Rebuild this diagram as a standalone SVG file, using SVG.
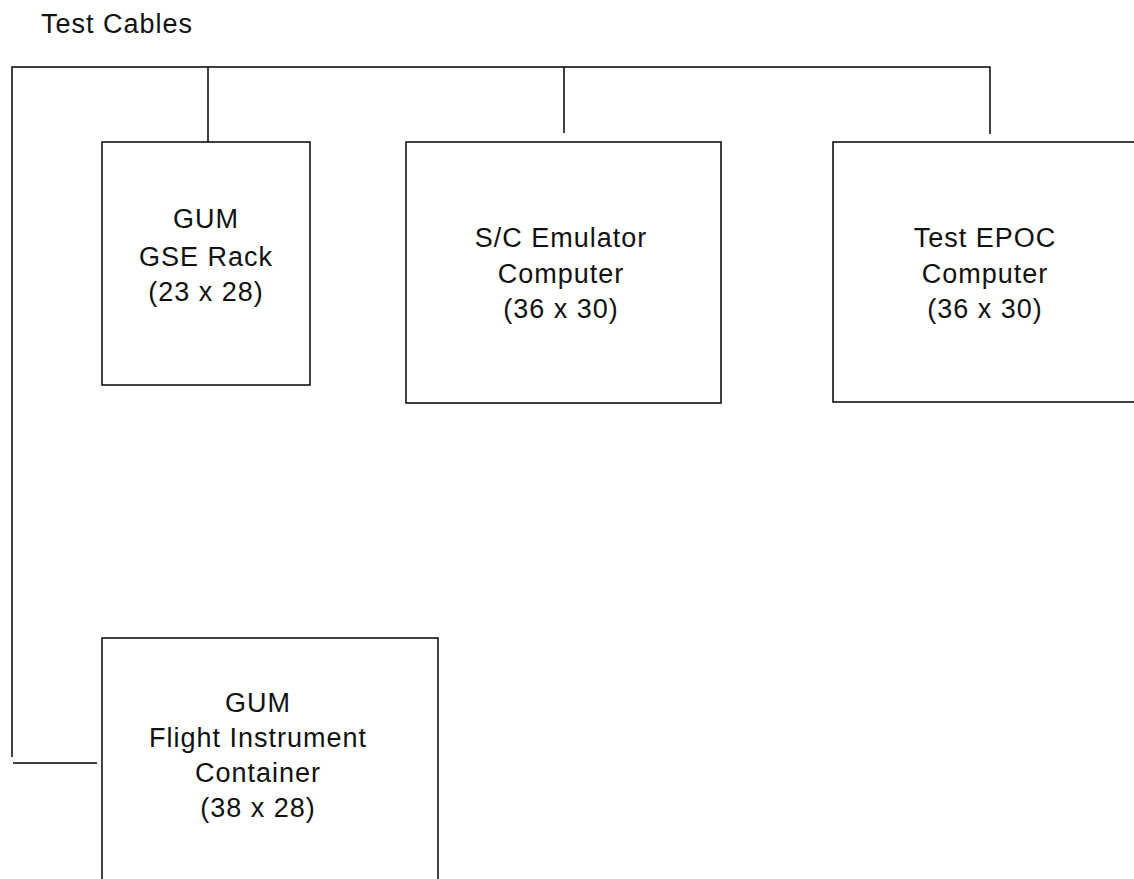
<svg xmlns="http://www.w3.org/2000/svg" width="1134" height="879" viewBox="0 0 1134 879">
<style>
.box{fill:#fff;stroke:#000;stroke-width:1.5}
.wire{fill:none;stroke:#000;stroke-width:1.5}
text{font-family:"Liberation Sans",Arial,sans-serif;font-size:27px;letter-spacing:1px;fill:#111}
.c{text-anchor:middle}
</style>
<rect width="1134" height="879" fill="#fff"/>
<text id="title" x="41" y="33">Test Cables</text>
<g id="connectors">
<path class="wire" d="M12,757 V67 H990 V134"/>
<path class="wire" d="M208,67 V142"/>
<path class="wire" d="M564,67 V133"/>
<path class="wire" d="M13,763 H97"/>
</g>
<g id="gse-rack">
<rect class="box" x="102" y="142" width="208" height="243"/>
<text class="c" x="206" y="228">GUM</text>
<text class="c" x="206" y="266">GSE Rack</text>
<text class="c" x="206" y="301">(23 x 28)</text>
</g>
<g id="sc-emulator">
<rect class="box" x="406" y="142" width="315" height="261"/>
<text class="c" x="561" y="247">S/C Emulator</text>
<text class="c" x="561" y="283">Computer</text>
<text class="c" x="561" y="318">(36 x 30)</text>
</g>
<g id="test-epoc">
<rect class="box" x="833" y="142" width="310" height="260"/>
<text class="c" x="985" y="247">Test EPOC</text>
<text class="c" x="985" y="283">Computer</text>
<text class="c" x="985" y="318">(36 x 30)</text>
</g>
<g id="flight-instrument">
<rect class="box" x="102" y="638" width="336" height="260"/>
<text class="c" x="258" y="712">GUM</text>
<text class="c" x="258" y="747">Flight Instrument</text>
<text class="c" x="258" y="782">Container</text>
<text class="c" x="258" y="817">(38 x 28)</text>
</g>
</svg>
